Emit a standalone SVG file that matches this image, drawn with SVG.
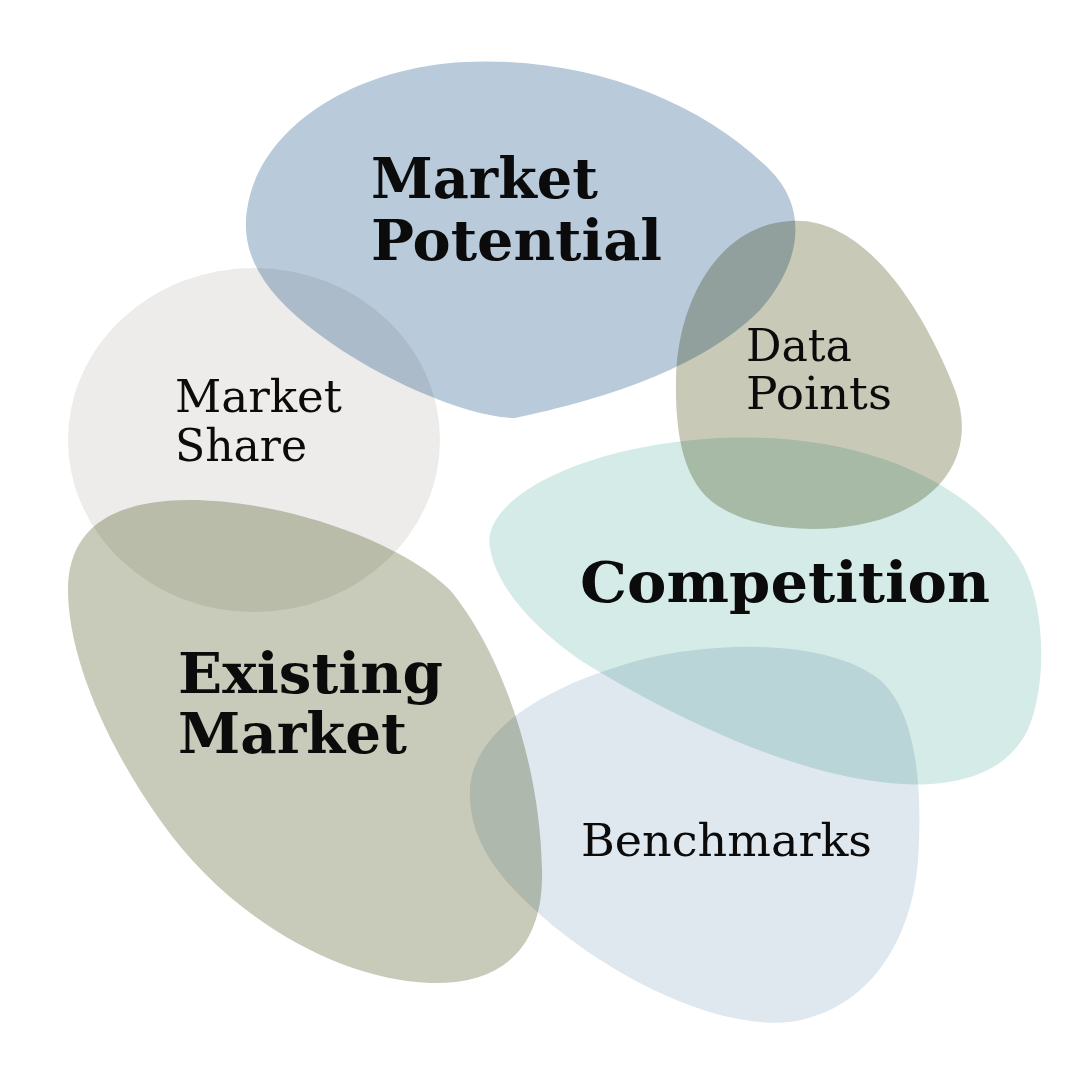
<svg xmlns="http://www.w3.org/2000/svg" width="1091" height="1091" viewBox="0 0 1091 1091">
<style>
.blob{mix-blend-mode:multiply;stroke:none}
.big{font-family:"DejaVu Serif","Liberation Serif",serif;font-weight:bold;font-size:56px;fill:#0b0b0b}
.small{font-family:"DejaVu Serif","Liberation Serif",serif;font-weight:normal;font-size:45px;fill:#0b0b0b}
</style>
<rect x="0" y="0" width="1091" height="1091" fill="#ffffff"/>
<g id="market-potential">
<path class="blob" fill="#b9cadb" d="M 515,418 C 470,418 380,380 320,335 C 265,295 240,255 247,210 C 258,130 350,68 465,62 C 585,56 700,100 770,170 C 810,210 800,265 760,310 C 700,370 600,400 515,418 Z"/>
<text class="big" x="371" y="198" textLength="227" lengthAdjust="spacingAndGlyphs">Market</text>
<text class="big" x="371" y="260" textLength="291" lengthAdjust="spacingAndGlyphs">Potential</text>
</g>
<g id="data-points">
<path class="blob" fill="#c8cab7" d="M 790,221 C 860,215 920,300 955,390 C 975,445 950,490 900,512 C 850,535 770,535 725,510 C 685,490 675,440 676,380 C 677,300 720,225 790,221 Z"/>
<text class="small" x="746" y="361" textLength="106" lengthAdjust="spacingAndGlyphs">Data</text>
<text class="small" x="746" y="409" textLength="146" lengthAdjust="spacingAndGlyphs">Points</text>
</g>
<g id="market-share">
<ellipse class="blob" fill="#eeecea" cx="254" cy="440" rx="186" ry="172"/>
<text class="small" x="175" y="412" textLength="167" lengthAdjust="spacingAndGlyphs">Market</text>
<text class="small" x="175" y="461" textLength="132" lengthAdjust="spacingAndGlyphs">Share</text>
</g>
<g id="competition">
<path class="blob" fill="#d4ebe7" d="M 490,548 C 480,500 580,445 720,438 C 860,432 970,480 1020,560 C 1050,610 1045,700 1025,735 C 1000,780 940,790 880,782 C 780,770 660,710 580,660 C 530,625 496,585 490,548 Z"/>
<text class="big" x="580" y="602" textLength="410" lengthAdjust="spacingAndGlyphs">Competition</text>
</g>
<g id="existing-market">
<path class="blob" fill="#c8cbb9" d="M 190,500 C 280,500 400,540 450,590 C 500,650 540,760 542,870 C 544,950 500,985 430,983 C 340,980 230,920 160,820 C 100,735 68,650 68,590 C 68,530 110,500 190,500 Z"/>
<text class="big" x="178" y="693" textLength="265" lengthAdjust="spacingAndGlyphs">Existing</text>
<text class="big" x="178" y="753" textLength="229" lengthAdjust="spacingAndGlyphs">Market</text>
</g>
<g id="benchmarks">
<path class="blob" fill="#e0e8ef" d="M 470,800 C 465,740 530,690 640,660 C 720,640 830,640 880,680 C 920,715 922,800 918,860 C 912,940 870,1010 790,1022 C 710,1030 600,970 535,910 C 490,870 472,835 470,800 Z"/>
<text class="small" x="581" y="856" textLength="291" lengthAdjust="spacingAndGlyphs">Benchmarks</text>
</g>
</svg>
